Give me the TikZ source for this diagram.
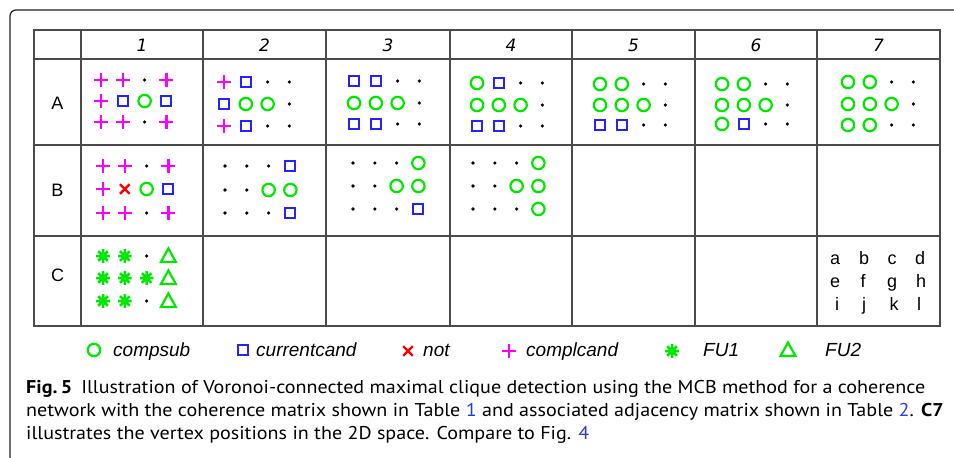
\documentclass[tikz,border=0pt]{standalone}
\usepackage{fontspec}
\usepackage{graphicx}
\setmainfont{Liberation Sans}
\newfontfamily\capfont{PT Sans}
\newfontfamily\hdrfont{DejaVu Sans}
\definecolor{sgreen}{RGB}{0,232,0}
\definecolor{sblue}{RGB}{35,35,255}
\definecolor{smag}{RGB}{255,0,255}
\definecolor{sred}{RGB}{255,0,0}
\definecolor{linkblue}{RGB}{40,60,220}
\definecolor{gridc}{RGB}{75,75,75}
\definecolor{framec}{RGB}{30,30,30}
\newsavebox\capboxa
\tikzset{
  gline/.style={draw=sgreen, line width=2.2pt},
  bline/.style={draw=sblue, line width=2pt},
  pline/.style={draw=smag, line width=2.4pt},
  rline/.style={draw=sred, line width=2.4pt},
  fline/.style={draw=sgreen, line width=2.5pt},
  tabline/.style={draw=gridc, line width=1.3pt},
  frameline/.style={draw=framec, line width=1.2pt, rounded corners=6pt},
  hdr/.style={font=\hdrfont\itshape\fontsize{17}{17}\selectfont, inner sep=0},
  rowlab/.style={font=\fontsize{18}{18}\selectfont, inner sep=0},
  lett/.style={anchor=base, inner sep=0, font=\fontsize{18}{18}\selectfont},
  legtxt/.style={anchor=base west, inner sep=0, font=\itshape\fontsize{19}{19}\selectfont},
  capline/.style={anchor=base west, inner sep=0, font=\capfont\fontsize{18.5}{23}\selectfont},
}
\newcommand\symC[2]{\draw[gline] ({#1},{#2}) circle[radius=6.2];}
\newcommand\symS[2]{\draw[bline] ({#1-5},{#2-5}) rectangle ({#1+5},{#2+5});}
\newcommand\symP[2]{\draw[pline] ({#1-7},{#2}) -- ({#1+7},{#2}) ({#1},{#2-7}) -- ({#1},{#2+7});}
\newcommand\symD[2]{\fill ({#1},{#2}) circle[radius=1.8];}
\newcommand\symX[2]{\draw[rline] ({#1-4.8},{#2-4.8}) -- ({#1+4.8},{#2+4.8}) ({#1-4.8},{#2+4.8}) -- ({#1+4.8},{#2-4.8});}
\newcommand\symF[2]{\draw[fline] ({#1-6.8},{#2}) -- ({#1+6.8},{#2}) ({#1},{#2-6.8}) -- ({#1},{#2+6.8}) ({#1-4.8},{#2-4.8}) -- ({#1+4.8},{#2+4.8}) ({#1-4.8},{#2+4.8}) -- ({#1+4.8},{#2-4.8});}
\newcommand\symT[2]{\draw[gline, line join=miter] ({#1-7.5},{#2+6}) -- ({#1+7.5},{#2+6}) -- ({#1},{#2-7.5}) -- cycle;}
\newcommand\cellsym[7]{%
  \foreach \s [count=\i from 0] in {#5} {\csname sym\s\endcsname{#1+\i*21.8}{#2}}
  \foreach \s [count=\i from 0] in {#6} {\csname sym\s\endcsname{#1+\i*21.8}{#3}}
  \foreach \s [count=\i from 0] in {#7} {\csname sym\s\endcsname{#1+\i*21.8}{#4}}
}
\begin{document}
\begin{tikzpicture}[x=1pt, y=-1pt]
\useasboundingbox (0,0) rectangle (954,458);
% frame
\draw[frameline] (10,470) -- (10,10) -- (970,10);
% table
\draw[tabline] (34,30) rectangle (940,326);
\foreach \xx in {81,203,326,450,572,695,817} \draw[tabline] (\xx,30) -- (\xx,326);
\foreach \yy in {59,145,236} \draw[tabline] (34,\yy) -- (940,\yy);
% headers
\foreach \lab/\xc in {1/142,2/264.5,3/388,4/511,5/633.5,6/756,7/878.5}
  \node[hdr] (h\lab) at (\xc,45.5) {\lab};
\node[rowlab] (rA) at (57.5,103) {A};
\node[rowlab] (rB) at (57.5,190) {B};
\node[rowlab] (rC) at (57.5,275) {C};
% row A
\cellsym{101}{80}{101}{122}{P,P,D,P}{P,S,C,S}{P,P,D,P}
\cellsym{224}{82}{104}{126}{P,S,D,D}{S,C,C,D}{P,S,D,D}
\cellsym{354}{81}{103}{124}{S,S,D,D}{C,C,C,D}{S,S,D,D}
\cellsym{477}{83}{105}{126}{C,S,D,D}{C,C,C,D}{S,S,D,D}
\cellsym{600}{84}{105}{125}{C,C,D,D}{C,C,C,D}{S,S,D,D}
\cellsym{722}{84}{105}{124}{C,C,D,D}{C,C,C,D}{C,S,D,D}
\cellsym{848}{82}{104}{125}{C,C,D,D}{C,C,C,D}{C,C,D,D}
% row B
\cellsym{103}{166}{189}{213}{P,P,D,P}{P,X,C,S}{P,P,D,P}
\cellsym{225}{166}{190}{213}{D,D,D,S}{D,D,C,C}{D,D,D,S}
\cellsym{353}{163}{186}{209}{D,D,D,C}{D,D,C,C}{D,D,D,S}
\cellsym{473}{163}{186}{209}{D,D,D,C}{D,D,C,C}{D,D,D,C}
% row C
\cellsym{103}{256}{278}{301}{F,F,D,T}{F,F,F,T}{F,F,D,T}
% C7 letters
\node[lett] (la) at (835,264) {a};
\node[lett] (lb) at (864,264) {b};
\node[lett] (lc) at (892,264) {c};
\node[lett] (ld) at (920,264) {d};
\node[lett] (le) at (835,287) {e};
\node[lett] (lf) at (863,287) {f};
\node[lett] (lg) at (892,287) {g};
\node[lett] (lh) at (921,287) {h};
\node[lett] (li) at (837,310) {i};
\node[lett] (lj) at (864,310) {j};
\node[lett] (lk) at (894,310) {k};
\node[lett] (ll) at (919,310) {l};
% legend
\symC{94}{350}
\node[legtxt] (t1) at (113,356) {compsub};
\symS{243}{350}
\node[legtxt] (t2) at (256,356) {currentcand};
\symX{408}{351}
\node[legtxt] (t3) at (423,356) {not};
\symP{509}{351}
\node[legtxt] (t4) at (526,356) {complcand};
\symF{672}{351}
\node[legtxt] (t5) at (703,356) {FU1};
\symT{788}{350}
\node[legtxt] (t6) at (825,356) {FU2};
% caption
\node[capline] (c1) at (26,393) {\sbox\capboxa{\textbf{Fig.\,5}\hspace{0.45em}Illustration of Voronoi-connected maximal clique detection using the MCB method for a coherence}\pgfmathsetmacro\capfac{899/\the\wd\capboxa}\global\let\capfacG\capfac\scalebox{\capfac}[1]{\usebox\capboxa}};
\node[capline] (c2) at (26,416) {\scalebox{\capfacG}[1]{network with the coherence matrix shown in Table {\color{linkblue}1} and associated adjacency matrix shown in Table {\color{linkblue}2}. \textbf{C7}}};
\node[capline] (c3) at (26,439) {\scalebox{\capfacG}[1]{illustrates the vertex positions in the 2D space. Compare to Fig. {\color{linkblue}4}}};
\end{tikzpicture}
\end{document}
